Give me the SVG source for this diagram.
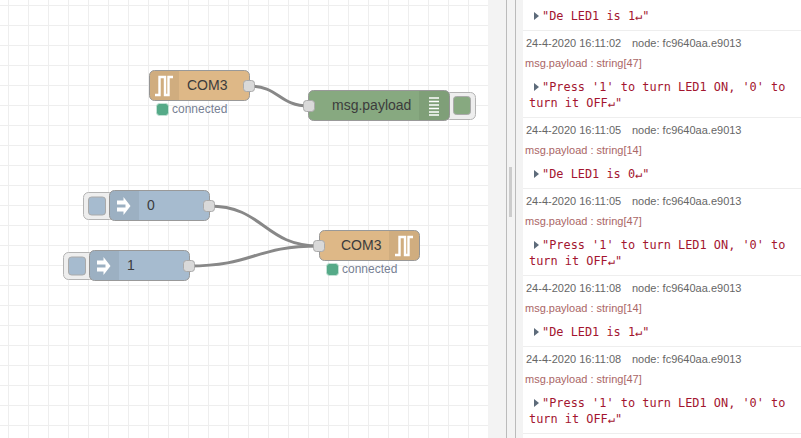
<svg xmlns="http://www.w3.org/2000/svg" width="801" height="438" viewBox="0 0 801 438">
<defs>
<style>
.n{stroke:#999;stroke-width:1}
.ic{fill:#000;fill-opacity:.06}
.port{fill:#d9d9d9;stroke:#aaa;stroke-width:1}
.btn{fill:#eee;stroke:#b4b4b4;stroke-width:1}
.wire{fill:none;stroke:#888;stroke-width:3}
.lab{font:14px "Liberation Sans",Arial,sans-serif;fill:#3c3c3c}
.st{font:12px "Liberation Sans",Arial,sans-serif;fill:#777f93}
.stdot{fill:#55aa88;stroke:#c4e2d6;stroke-width:1}
.meta{font:11px "Liberation Sans",Arial,sans-serif;fill:#666}
.nm{font:11px "Liberation Sans",Arial,sans-serif;fill:#a66}
.val{font:11.9px "DejaVu Sans Mono","Liberation Mono",monospace;fill:#a3152f}
.sep{stroke:#eee;stroke-width:1}
.tri{fill:#5d6b7a}
.ico{fill:none;stroke:#fff;stroke-width:2.400}
</style>
<pattern id="grid" width="20" height="20" patternUnits="userSpaceOnUse" x="8" y="5">
<path d="M0.5 0V20M0 0.5H20" stroke="#eee" stroke-width="1" fill="none"/>
</pattern>
</defs>
<rect width="801" height="438" fill="#fff"/>
<rect x="0" y="0" width="488" height="438" fill="url(#grid)"/>
<rect x="488" y="0" width="18" height="438" fill="#f3f3f3"/>
<rect x="506" y="0" width="1" height="438" fill="#bbb"/>
<rect x="507" y="0" width="8" height="438" fill="#f3f3f3"/>
<rect x="515" y="0" width="1" height="438" fill="#bbb"/>
<rect x="516" y="0" width="7" height="438" fill="#f3f3f3"/>
<rect x="509" y="167" width="3" height="50" fill="#ccc"/>
<rect x="523" y="0" width="278" height="438" fill="#fff"/>

<g id="connectors">
<path class="wire" d="M249 86C279 86 279 106 309 106"/>
<path class="wire" d="M209 206C264 206 264 246 319 246"/>
<path class="wire" d="M189 266C254 266 254 246 319 246"/>
</g>

<g id="serial-in">
<rect class="n" x="149.500" y="70.500" width="100" height="30" rx="5" fill="#deb887"/>
<path class="ic" d="M179 71H154.500a5 5 0 0 0-5 5V95a5 5 0 0 0 5 5H179Z"/>
<path class="ico" d="M155 95H159.500V77H165V95H168.500V77H173"/>
<text class="lab" x="187" y="90">COM3</text>
<rect class="port" x="243.500" y="80.500" width="11" height="11" rx="3"/>
<rect class="stdot" x="156.500" y="103.500" width="12" height="12" rx="3"/>
<text class="st" x="172" y="113">connected</text>
</g>

<g id="debug">
<rect class="btn" x="444.500" y="92.500" width="31" height="27" rx="5"/>
<rect x="453.500" y="96.500" width="17" height="18" rx="3" fill="#87a980" stroke="#aaa"/>
<rect class="n" x="308.500" y="90.500" width="141" height="30" rx="5" fill="#87a980"/>
<path class="ic" d="M419 91H444.500a5 5 0 0 1 5 5V115a5 5 0 0 1-5 5H419Z"/>
<path d="M429 98H439M429 101.500H439M429 105H439M429 108.500H439M429 112H439M429 115H439" stroke="#fff" stroke-width="1.500" fill="none"/>
<text class="lab" x="332" y="110">msg.payload</text>
<rect class="port" x="303.500" y="100.500" width="11" height="11" rx="3"/>
</g>

<g id="inject-0">
<rect class="btn" x="83.500" y="192.500" width="31" height="27" rx="5"/>
<rect x="88.500" y="197" width="17" height="18" rx="3" fill="#a6bbcf" stroke="#aaa"/>
<rect class="n" x="109.500" y="190.500" width="100" height="30" rx="5" fill="#a6bbcf"/>
<path class="ic" d="M139 191H114.500a5 5 0 0 0-5 5V215a5 5 0 0 0 5 5H139Z"/>
<path d="M117 200.500H123.500V197L130.500 206L123.500 215V211.500H117V207.500H125.500V204.500H117Z" fill="#fff"/>
<text class="lab" x="147" y="210">0</text>
<rect class="port" x="203.500" y="200.500" width="11" height="11" rx="3"/>
</g>

<g id="inject-1">
<rect class="btn" x="63.500" y="252.500" width="31" height="27" rx="5"/>
<rect x="68.500" y="257" width="17" height="18" rx="3" fill="#a6bbcf" stroke="#aaa"/>
<rect class="n" x="89.500" y="250.500" width="100" height="30" rx="5" fill="#a6bbcf"/>
<path class="ic" d="M119 251H94.500a5 5 0 0 0-5 5V275a5 5 0 0 0 5 5H119Z"/>
<path d="M97 260.500H103.500V257L110.500 266L103.500 275V271.500H97V267.500H105.500V264.500H97Z" fill="#fff"/>
<text class="lab" x="127" y="270">1</text>
<rect class="port" x="183.500" y="260.500" width="11" height="11" rx="3"/>
</g>

<g id="serial-out">
<rect class="n" x="319.500" y="230.500" width="100" height="30" rx="5" fill="#deb887"/>
<path class="ic" d="M389 231H414.500a5 5 0 0 1 5 5V255a5 5 0 0 1-5 5H389Z"/>
<path class="ico" d="M395 255H399.500V237H405V255H408.500V237H413"/>
<text class="lab" x="341" y="250">COM3</text>
<rect class="port" x="313.500" y="240.500" width="11" height="11" rx="3"/>
<rect class="stdot" x="326.500" y="263.500" width="12" height="12" rx="3"/>
<text class="st" x="342" y="273">connected</text>
</g>

<g id="debug-panel">
<path class="sep" d="M523 30.500H801M523 117.500H801M523 188.500H801M523 275.500H801M523 346.500H801M523 433.500H801"/>

<path class="tri" d="M534 12V20L539 16Z"/>
<text class="val" x="542" y="20">"De LED1 is 1↵"</text>

<text class="meta" x="526" y="47">24-4-2020 16:11:02</text><text class="meta" x="632" y="47">node: fc9640aa.e9013</text>
<text class="nm" x="525" y="67">msg.payload : string[47]</text>
<path class="tri" d="M534 83V91L539 87Z"/>
<text class="val" x="542" y="91">"Press '1' to turn LED1 ON, '0' to</text>
<text class="val" x="529" y="107">turn it OFF↵"</text>

<text class="meta" x="526" y="134">24-4-2020 16:11:05</text><text class="meta" x="632" y="134">node: fc9640aa.e9013</text>
<text class="nm" x="525" y="154">msg.payload : string[14]</text>
<path class="tri" d="M534 170V178L539 174Z"/>
<text class="val" x="542" y="178">"De LED1 is 0↵"</text>

<text class="meta" x="526" y="205">24-4-2020 16:11:05</text><text class="meta" x="632" y="205">node: fc9640aa.e9013</text>
<text class="nm" x="525" y="225">msg.payload : string[47]</text>
<path class="tri" d="M534 241V249L539 245Z"/>
<text class="val" x="542" y="249">"Press '1' to turn LED1 ON, '0' to</text>
<text class="val" x="529" y="265">turn it OFF↵"</text>

<text class="meta" x="526" y="292">24-4-2020 16:11:08</text><text class="meta" x="632" y="292">node: fc9640aa.e9013</text>
<text class="nm" x="525" y="312">msg.payload : string[14]</text>
<path class="tri" d="M534 328V336L539 332Z"/>
<text class="val" x="542" y="336">"De LED1 is 1↵"</text>

<text class="meta" x="526" y="363">24-4-2020 16:11:08</text><text class="meta" x="632" y="363">node: fc9640aa.e9013</text>
<text class="nm" x="525" y="383">msg.payload : string[47]</text>
<path class="tri" d="M534 399V407L539 403Z"/>
<text class="val" x="542" y="407">"Press '1' to turn LED1 ON, '0' to</text>
<text class="val" x="529" y="423">turn it OFF↵"</text>
</g>
</svg>
